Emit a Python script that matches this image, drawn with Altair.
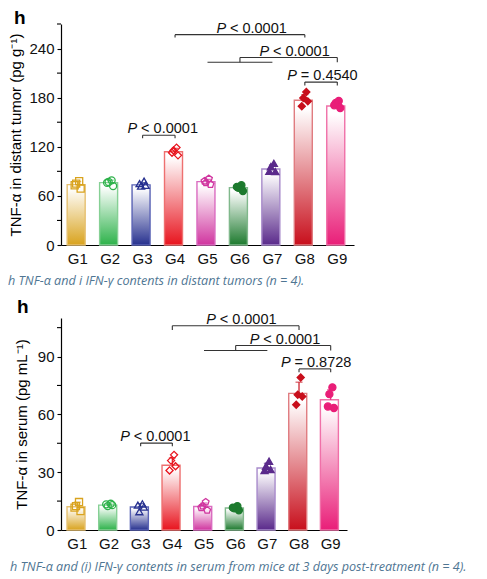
import altair as alt
import pandas as pd

groups = ["G1", "G2", "G3", "G4", "G5", "G6", "G7", "G8", "G9"]

# ---- Panel 1: TNF-alpha in distant tumor (pg g-1) ----
tumor_mean = [73.8, 76.2, 73.4, 113.9, 77.4, 70.1, 92.8, 176.8, 169.9]
tumor_sd = [3.8, 3.0, 2.8, 4.2, 2.8, 2.6, 5.0, 7.0, 3.5]
tumor_g1 = [78, 75, 69, 73]
tumor_g2 = [79, 77, 72, 76]
tumor_g3 = [78, 72, 73, 75]
tumor_g4 = [119, 115.5, 109.5, 112.7]
tumor_g5 = [81, 76, 74, 78]
tumor_g6 = [73, 70, 66, 71]
tumor_g7 = [99.7, 95.7, 89.6, 90]
tumor_g8 = [187, 179.6, 175.5, 169.5]
tumor_g9 = [176, 173.5, 167.4, 170.7]
# bracket segments: (from group, to group, from value, to value)
tumor_brackets = [
    ("G3", "G4", 134, 134), ("G3", "G3", 134, 130.4), ("G4", "G4", 134, 130.4),
    ("G4", "G8", 257, 257), ("G4", "G4", 257, 253.4), ("G8", "G8", 257, 253.4),
    ("G5", "G7", 223.3, 223.3), ("G6", "G6", 223.3, 229), ("G6", "G9", 229, 229),
    ("G9", "G9", 229, 223.3),
    ("G8", "G9", 199, 199), ("G8", "G8", 199, 195), ("G9", "G9", 199, 195),
]
tumor_p_text = ["< 0.0001", "< 0.0001", "< 0.0001", "= 0.4540"]
tumor_p_value_y = [134, 257, 229, 199]
tumor_p_group = ["G3", "G6", "G7", "G8"]

# ---- Panel 2: TNF-alpha in serum (pg mL-1) ----
serum_mean = [12.1, 12.9, 11.9, 33.6, 12.2, 11.4, 32.2, 70.9, 67.6]
serum_sd = [2.4, 0.6, 1.8, 3.8, 1.8, 0.9, 2.4, 5.8, 5.2]
serum_g1 = [14.5, 12.4, 9.8, 11.6]
serum_g2 = [13.6, 12.4, 12.9, 13.3]
serum_g3 = [13.6, 9.5, 11.9, 12.9]
serum_g4 = [39.0, 36.0, 33.1, 30.9]
serum_g5 = [14.5, 12.4, 10.2, 11.6]
serum_g6 = [12.4, 11.2, 10.2, 11.6]
serum_g7 = [35.7, 33.1, 31.4, 30.9]
serum_g8 = [79.1, 70.2, 69.3, 65.0]
serum_g9 = [74.0, 70.5, 63.3, 64.1]
serum_brackets = [
    ("G3", "G4", 45.1, 45.1), ("G3", "G3", 45.1, 43.4), ("G4", "G4", 45.1, 43.4),
    ("G4", "G8", 106.0, 106.0), ("G4", "G4", 106.0, 103.8), ("G8", "G8", 106.0, 103.8),
    ("G5", "G7", 93.1, 93.1), ("G6", "G6", 93.1, 95.7), ("G6", "G9", 95.7, 95.7),
    ("G9", "G9", 95.7, 93.1),
    ("G8", "G9", 83.6, 83.6), ("G8", "G8", 83.6, 81.9), ("G9", "G9", 83.6, 81.9),
]
serum_p_text = ["< 0.0001", "< 0.0001", "< 0.0001", "= 0.8728"]
serum_p_value_y = [45.1, 106.0, 95.7, 83.6]
serum_p_group = ["G3", "G6", "G7", "G8"]

# ---- styles ----
FONT = "Liberation Sans"
bar_colors = ["#D9A31E", "#2DB24A", "#27318F", "#E8141E", "#D0359F",
              "#1D7A2E", "#5A2A8B", "#C80F1C", "#E91E78"]
bar_strokes = ["#E6C070", "#86D095", "#5A63B5", "#EE7070", "#DA6CC0",
               "#80B88C", "#A88BCB", "#E07C80", "#F070A8"]
pent = "M0,-1L0.951,-0.309L0.588,0.809L-0.588,0.809L-0.951,-0.309Z"
shapes = ["square", "circle", "triangle-up", "diamond", pent,
          "circle", "triangle-up", "diamond", "circle"]
fills = ["transparent"] * 5 + bar_colors[5:]


def panel(mean, sd, pts, segs, ptext, pty, ptg, ymax, yticks, minor, ytitle,
          width, height, caption, cap_size, text_dx, title_pad, cap_dx, cap_dy,
          h_dx, h_dy):
    bar_df = pd.DataFrame({"g": groups, "mean": mean, "sd": sd})
    bar_df["top"] = bar_df["mean"] + bar_df["sd"]
    rows = []
    for g, vals in zip(groups, pts):
        for r, v in enumerate(vals):
            rows.append({"g": g, "rep": r, "v": v})
    pt_df = pd.DataFrame(rows)
    seg_df = pd.DataFrame(segs, columns=["ga", "gb", "ya", "yb"])

    xscale = alt.Scale(domain=groups, paddingInner=0.35, paddingOuter=0.19)
    yscale = alt.Scale(domain=[0, ymax], nice=False, zero=True)
    xaxis = alt.Axis(labelAngle=0, ticks=False, labelFontSize=15, labelFont=FONT,
                     labelColor="#111", labelPadding=6, domainColor="black",
                     domainWidth=1.2, grid=False)
    yaxis = alt.Axis(values=yticks, tickSize=4, tickColor="black", tickWidth=1.1,
                     labelFontSize=15, labelFont=FONT, labelColor="#111",
                     labelPadding=3, domainColor="black", domainWidth=1.2,
                     titleFont=FONT, titleFontSize=15, titleFontWeight="normal",
                     titleColor="black", titlePadding=title_pad, grid=False)
    col_scale = alt.Scale(domain=groups, range=bar_colors)

    layers = []
    for i, g in enumerate(groups):
        grad = alt.LinearGradient(
            gradient="linear",
            stops=[alt.GradientStop(color="white", offset=0),
                   alt.GradientStop(color="white", offset=0.06),
                   alt.GradientStop(color=bar_colors[i], offset=1)],
            x1=0, x2=0, y1=0, y2=1)
        enc_x = alt.X("g:N", scale=xscale, title=None, axis=xaxis if i == 0 else alt.Undefined)
        enc_y = alt.Y("mean:Q", scale=yscale, title=ytitle, axis=yaxis if i == 0 else alt.Undefined)
        layers.append(
            alt.Chart(bar_df).transform_filter(alt.datum.g == g)
            .mark_bar(fill=grad, stroke=bar_strokes[i], strokeWidth=1.4)
            .encode(x=enc_x, y=enc_y)
        )

    X = alt.X("g:N", scale=xscale, title=None)
    # error bars (upper)
    layers.append(
        alt.Chart(bar_df).mark_rule(strokeWidth=1.2).encode(
            x=X, y=alt.Y("mean:Q", scale=yscale, title=ytitle), y2="top:Q",
            color=alt.Color("g:N", scale=col_scale, legend=None))
    )
    layers.append(
        alt.Chart(bar_df).mark_tick(size=7, thickness=1.2, orient="horizontal").encode(
            x=X, y=alt.Y("top:Q", scale=yscale, title=ytitle),
            color=alt.Color("g:N", scale=col_scale, legend=None))
    )
    # points (small horizontal scatter around the bar centre)
    layers.append(
        alt.Chart(pt_df)
        .transform_calculate(jx="(datum.rep % 2 == 0 ? 1 : -1) * (datum.rep < 2 ? 0.5 : 1)")
        .mark_point(size=50, strokeWidth=1.3, opacity=1)
        .encode(
            x=X,
            xOffset=alt.XOffset("jx:Q", scale=alt.Scale(domain=[-1, 1], range=[7.5, 13.5])),
            y=alt.Y("v:Q", scale=yscale, title=ytitle),
            shape=alt.Shape("g:N", scale=alt.Scale(domain=groups, range=shapes), legend=None),
            stroke=alt.Stroke("g:N", scale=col_scale, legend=None),
            fill=alt.Fill("g:N", scale=alt.Scale(domain=groups, range=fills), legend=None),
        )
    )
    # minor ticks
    layers.append(
        alt.Chart(pd.DataFrame({"m": minor})).mark_rule(color="black", strokeWidth=1.1)
        .encode(y=alt.Y("m:Q", scale=yscale, title=ytitle), x=alt.value(0), x2=alt.value(-4))
    )
    # brackets
    layers.append(
        alt.Chart(seg_df).mark_rule(color="#333", strokeWidth=1.1).encode(
            x=alt.X("ga:N", scale=xscale, title=None, bandPosition=0.5),
            x2=alt.X2("gb:N", bandPosition=0.5),
            y=alt.Y("ya:Q", scale=yscale, title=ytitle),
            y2="yb:Q")
    )
    # P labels
    for k in range(len(ptext)):
        d = pd.DataFrame({"g": [ptg[k]], "y": [pty[k]], "p": ["P"], "t": [ptext[k]]})
        base = alt.Chart(d)
        layers.append(
            base.mark_text(align="left", baseline="alphabetic", dx=text_dx[k], dy=-2,
                           font=FONT, fontSize=14.5, fontStyle="italic", color="#111")
            .encode(x=alt.X("g:N", scale=xscale, title=None),
                    y=alt.Y("y:Q", scale=yscale, title=ytitle), text="p:N")
        )
        layers.append(
            base.mark_text(align="left", baseline="alphabetic", dx=text_dx[k] + 13.5, dy=-2,
                           font=FONT, fontSize=14.5, color="#111")
            .encode(x=alt.X("g:N", scale=xscale, title=None),
                    y=alt.Y("y:Q", scale=yscale, title=ytitle), text="t:N")
        )
    # panel letter
    layers.append(
        alt.Chart(pd.DataFrame({"t": ["h"]})).mark_text(
            align="left", baseline="alphabetic", font=FONT, fontSize=19,
            fontWeight="bold", color="black")
        .encode(text="t:N", x=alt.value(h_dx), y=alt.value(h_dy))
    )
    # caption
    layers.append(
        alt.Chart(pd.DataFrame({"t": [caption]})).mark_text(
            align="left", baseline="middle", font="Open Sans", fontSize=cap_size,
            fontStyle="italic", color="#4f7693")
        .encode(text="t:N", x=alt.value(cap_dx), y=alt.value(height + cap_dy))
    )
    return alt.layer(*layers).properties(width=width, height=height)


top = panel(tumor_mean, tumor_sd,
            [tumor_g1, tumor_g2, tumor_g3, tumor_g4, tumor_g5, tumor_g6, tumor_g7, tumor_g8, tumor_g9],
            tumor_brackets, tumor_p_text, tumor_p_value_y, tumor_p_group,
            270, [0, 60, 120, 180, 240], [30, 90, 150, 210, 270],
            "TNF-α in distant tumor (pg g⁻¹)", 293, 221,
            "h TNF-α and i IFN-γ contents in distant tumors (n = 4).", 12.6,
            [-15, -23.5, -13, -17.5], 5, -53, 36, -47, 0)

bottom = panel(serum_mean, serum_sd,
               [serum_g1, serum_g2, serum_g3, serum_g4, serum_g5, serum_g6, serum_g7, serum_g8, serum_g9],
               serum_brackets, serum_p_text, serum_p_value_y, serum_p_group,
               110, [0, 30, 60, 90], [15, 45, 75, 105],
               "TNF-α in serum (pg mL⁻¹)", 286, 212,
               "h TNF-α and (i) IFN-γ contents in serum from mice at 3 days post-treatment (n = 4).", 12.6,
               [-20.5, -29.5, -17.5, -18], 8, -51, 37, -44, -5)

chart = alt.vconcat(top, bottom, spacing=10).properties(
    padding={"left": 0, "top": 1, "right": 5, "bottom": 2}
).configure_view(stroke=None)

chart.save("out.html", embed_options={"renderer": "svg", "actions": False})
